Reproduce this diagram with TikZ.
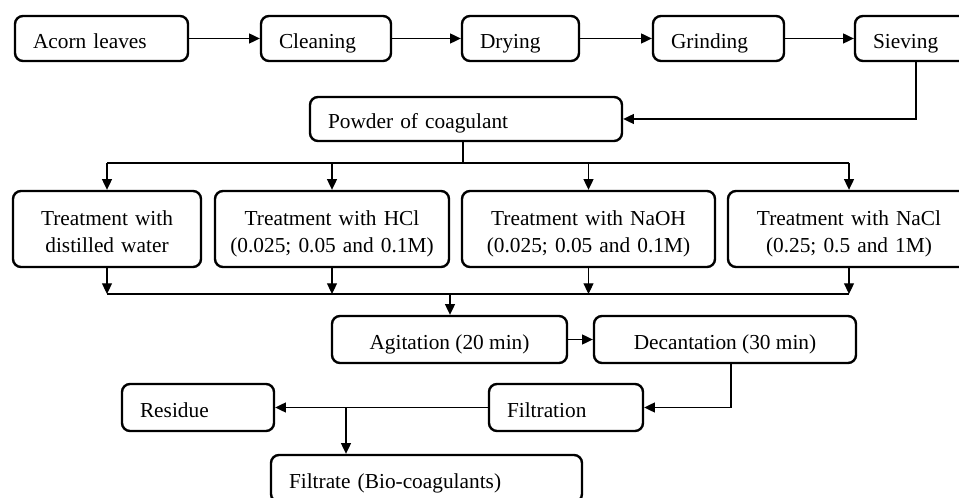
\documentclass[tikz,border=0pt]{standalone}
\usepackage{fontspec}
\setmainfont{Liberation Serif}
\usepackage{tikz}
\usetikzlibrary{arrows.meta}

\tikzset{
    stepbox/.style={draw, line width=1.8pt, rounded corners=6pt,
        font=\fontsize{16}{20}\selectfont, text height=15pt, text depth=0pt,
        minimum height=33.75pt},
    leftbox/.style={stepbox, align=left, inner xsep=13.5pt},
    midbox/.style={stepbox, align=center, inner xsep=4pt, text depth=20pt,
        minimum height=57pt},
}

\begin{document}
\begin{tikzpicture}[x=0.75pt, y=-0.75pt, line width=0.8pt,
    >={Triangle[length=8pt,width=7.5pt]}]
    \path[use as bounding box, clip] (0,0) rectangle (959,498);

    % first row
    \node[leftbox, text width=102.75pt] (acorn) at (101.5,38.5) {Acorn leaves};
    \node[leftbox, text width=70.5pt] (cleaning) at (326,38.5) {Cleaning};
    \node[leftbox, text width=60.75pt] (drying) at (520.5,38.5) {Drying};
    \node[leftbox, text width=71.25pt] (grinding) at (718.5,38.5) {Grinding};
    \node[leftbox, text width=70.5pt] (sieving) at (920,38.5) {Sieving};

    \draw [->] (acorn) -- (cleaning);
    \draw [->] (cleaning) -- (drying);
    \draw [->] (drying) -- (grinding);
    \draw [->] (grinding) -- (sieving);

    \node[leftbox, text width=207pt, minimum height=33pt] (powder) at (466,119) {Powder of coagulant};
    \draw [->] ([xshift=-3pt]sieving.south) |- (powder.east);

    % treatments
    \node[midbox, text width=133pt] (water) at (107,229) {Treatment with\\distilled water};
    \node[midbox, text width=167.5pt] (hcl) at (332,229) {Treatment with HCl\\(0.025; 0.05 and 0.1M)};
    \node[midbox, text width=181.75pt] (naoh) at (588.5,229) {Treatment with NaOH\\(0.025; 0.05 and 0.1M)};
    \node[midbox, text width=173.5pt] (nacl) at (849,229) {Treatment with NaCl\\(0.25; 0.5 and 1M)};

    \coordinate (split) at (463,163);
    \draw (powder.south -| split) -- (split);
    \draw (water.north |- split) -- (nacl.north |- split);
    \draw [->] (water.north |- split) -- (water.north);
    \draw [->] (hcl.north |- split) -- (hcl.north);
    \draw [->] (naoh.north |- split) -- (naoh.north);
    \draw [->] (nacl.north |- split) -- (nacl.north);

    \node[stepbox, minimum width=176.25pt, minimum height=35.25pt] (agitation) at (449.5,339.5) {Agitation (20 min)};
    \node[stepbox, minimum width=196.5pt, minimum height=35.25pt] (decantation) at (725,339.5) {Decantation (30 min)};

    \coordinate (join) at (450,294);
    \draw [->] (water.south) -- (water.south |- join);
    \draw [->] (hcl.south) -- (hcl.south |- join);
    \draw [->] (naoh.south) -- (naoh.south |- join);
    \draw [->] (nacl.south) -- (nacl.south |- join);
    \draw (water.south |- join) -- (nacl.south |- join);
    \draw [->] (join) -- (join |- agitation.north);
    \draw [->] (agitation) -- (decantation);

    % filtration
    \node[leftbox, text width=88.5pt, minimum height=35.25pt] (filtration) at (566,407.5) {Filtration};
    \node[leftbox, text width=87pt, minimum height=35.25pt] (residue) at (198,407.5) {Residue};
    \node[leftbox, text width=206.25pt, minimum height=35.25pt] (filtrate) at (426.5,478.5) {Filtrate (Bio-coagulants)};

    \draw [->] ([xshift=4.5pt]decantation.south) |- (filtration.east);
    \draw [->] (filtration) -- (residue);
    \coordinate (fork) at (346,407.5);
    \draw [->] (fork) -- (fork |- filtrate.north);
\end{tikzpicture}
\end{document}
